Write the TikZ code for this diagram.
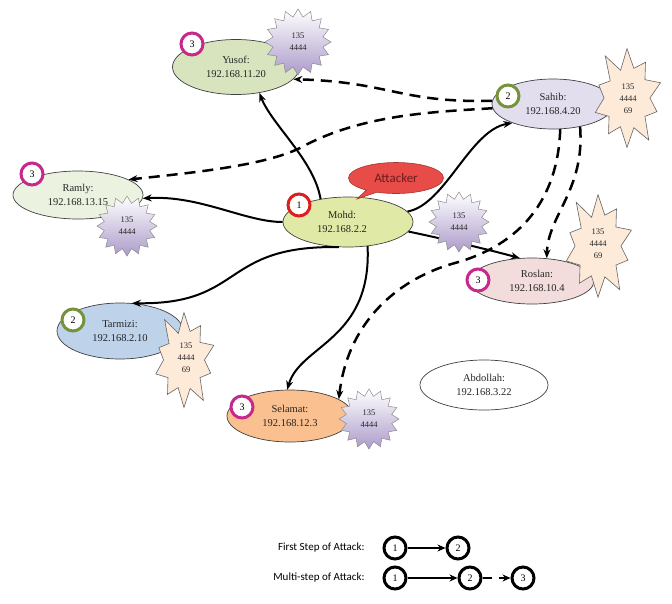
\documentclass[tikz,border=0pt]{standalone}
\usepackage{fontspec}
\setmainfont{Liberation Serif}
\newfontfamily\calib{Carlito}
\usetikzlibrary{shapes.geometric,shapes.callouts,arrows.meta}
\definecolor{cyusof}{RGB}{215,228,189}
\definecolor{csahib}{RGB}{226,222,238}
\definecolor{cmohd}{RGB}{224,234,166}
\definecolor{cramly}{RGB}{236,242,224}
\definecolor{croslan}{RGB}{242,221,220}
\definecolor{ctarmizi}{RGB}{190,210,234}
\definecolor{cselamat}{RGB}{250,192,143}
\definecolor{cream}{RGB}{253,234,216}
\definecolor{lav}{RGB}{172,155,202}
\definecolor{attred}{RGB}{232,76,72}
\definecolor{attext}{RGB}{110,28,28}
\definecolor{magentab}{RGB}{200,40,140}
\definecolor{greenb}{RGB}{118,146,60}
\definecolor{redb}{RGB}{220,30,30}
\tikzset{
  host/.style={ellipse, draw=black!75, line width=0.7pt, inner sep=0pt, align=center,
    text=black!85, font=\fontsize{10.5}{14}\selectfont},
  badge/.style={circle, draw=#1, line width=3pt, fill=white, minimum size=22pt,
    inner sep=0pt, font=\fontsize{10}{12}\selectfont},
  firststep/.style={line width=2pt, -{Stealth[length=9pt,width=7pt]}},
  multistep/.style={line width=2.5pt, dash pattern=on 11pt off 7pt, -{Stealth[length=9pt,width=7pt]}},
  purplestar/.style={star, star points=16, star point ratio=1.3, minimum size=#1, inner sep=0pt,
    draw=black!45, line width=0.5pt, top color=white, bottom color=lav, align=center,
    text=black!85, font=\fontsize{8.5}{12}\selectfont},
  startext/.style={align=center, text=black!85, font=\fontsize{8.5}{12}\selectfont},
  legendtext/.style={anchor=east, font=\calib\fontsize{11}{13}\selectfont},
  pics/boom/.style={code={
    \draw[draw=black!60, line width=0.6pt, fill=cream]
      (-126:1.0) -- (-108:0.56) -- (-90:0.95) -- (-72:0.6) -- (-54:0.85) -- (-36:0.6)
      -- (-18:0.95) -- (0:0.62) -- (18:0.85) -- (36:0.6) -- (54:1.0) -- (72:0.6)
      -- (90:0.95) -- (108:0.58) -- (126:0.85) -- (144:0.6) -- (162:0.9) -- (180:0.62)
      -- (198:0.8) -- (216:0.56) -- cycle;
  }}
}
\begin{document}
\begin{tikzpicture}[x=1pt,y=-1pt]
\useasboundingbox (0,0) rectangle (672,603);
\fill[white] (0,0) rectangle (672,603);

% hosts
\node[host, fill=cyusof, minimum width=127pt, minimum height=55pt] (yusof) at (236,67) {Yusof:\\192.168.11.20};
\node[host, fill=csahib, minimum width=122pt, minimum height=50pt] (sahib) at (553,104) {Sahib:\\192.168.4.20};
\node[host, fill=cmohd, minimum width=130pt, minimum height=50pt] (mohd) at (348,222) {Mohd:\hspace*{12pt}\\192.168.2.2\hspace*{12pt}};
\node[host, fill=cramly, minimum width=130pt, minimum height=48pt] (ramly) at (78,195) {Ramly:\\192.168.13.15};
\node[host, fill=croslan, minimum width=124pt, minimum height=46pt] (roslan) at (532,281) {\hspace*{10pt}Roslan:\\\hspace*{10pt}192.168.10.4};
\node[host, fill=ctarmizi, minimum width=126pt, minimum height=56pt] (tarmizi) at (120,331) {Tarmizi:\\192.168.2.10};
\node[host, fill=cselamat, minimum width=126pt, minimum height=52pt] (selamat) at (290,416) {Selamat:\\192.168.12.3};
\node[host, fill=white, minimum width=128pt, minimum height=50pt] (abdollah) at (484,385) {Abdollah:\\192.168.3.22};

% attacker callout
\node[ellipse callout, fill=attred, draw=attred!70!black, line width=0.6pt, minimum width=95pt,
  minimum height=31pt, inner sep=0pt, callout absolute pointer={(357,199)},
  font=\calib\fontsize{13}{15}\selectfont, text=attext] (attacker) at (396,178) {Attacker};

% first-step connectors
\draw[firststep] (mohd.140) .. controls (314,160) and (272,125) .. (yusof.-48);
\draw[firststep] (mohd.180) .. controls (245,222) and (200,195) .. (ramly.-3);
\draw[firststep] (mohd.10) .. controls (445,205) and (470,130) .. (sahib.205);
\draw[firststep] (mohd.-9) .. controls (440,238) and (490,250) .. (roslan.118);
\draw[firststep] (mohd.-110) .. controls (220,245) and (245,305) .. (tarmizi.67);
\draw[firststep] (mohd.-51) .. controls (372,340) and (300,345) .. (selamat.96);

% multi-step connectors
\draw[multistep] (sahib.177) .. controls (400,103) and (390,82) .. (yusof.-12);
\draw[multistep] (sahib.184) .. controls (430,112) and (360,115) .. (300,148)
  .. controls (265,165) and (200,172) .. (ramly.17);
\draw[multistep] (sahib.-40) .. controls (585,190) and (548,215) .. (roslan.57);
\draw[multistep] (sahib.-74) .. controls (558,200) and (520,245) .. (455,263)
  .. controls (400,278) and (348,320) .. (selamat.19);

% port stars
\node[purplestar=66pt] (ystar) at (298,42) {135\\4444};
\node[purplestar=60pt] (mstar) at (459,222) {135\\4444};
\node[purplestar=60pt] (rstar) at (127,226) {135\\4444};
\node[purplestar=60pt] (sstar) at (369,419) {135\\4444};
\pic[xscale=37, yscale=52] at (627,98) {boom};
\node[startext] (sahibports) at (628,99) {135\\4444\\69};
\pic[xscale=37, yscale=54] at (598,246) {boom};
\node[startext] (roslanports) at (598,244) {135\\4444\\69};
\pic[xscale=33, yscale=50] at (184,360) {boom};
\node[startext] (tarmiziports) at (186,358) {135\\4444\\69};

% step badges
\node[badge=magentab] (by) at (192,44) {3};
\node[badge=greenb] (bs) at (508,96) {2};
\node[badge=redb] (bm) at (299,205) {1};
\node[badge=magentab] (br) at (32,174) {3};
\node[badge=magentab] (bro) at (478,280) {3};
\node[badge=greenb] (bt) at (73,320) {2};
\node[badge=magentab] (bse) at (242,407) {3};

% legend
\node[legendtext] (lt1) at (368,548) {First Step of Attack:};
\node[legendtext] (lt2) at (368,578) {Multi-step of Attack:};
\node[badge=black] (la) at (395,548) {1};
\node[badge=black] (lb) at (458,548) {2};
\node[badge=black] (ma) at (395,578) {1};
\node[badge=black] (mb) at (470,578) {2};
\node[badge=black] (mc) at (523,578) {3};
\draw[line width=2.2pt, -{Stealth[length=8pt,width=7pt]}] (la) -- (lb);
\draw[line width=2.2pt, -{Stealth[length=8pt,width=7pt]}] (ma) -- (mb);
\draw[line width=2.2pt, dash pattern=on 9pt off 7pt, -{Stealth[length=8pt,width=7pt]}] (mb) -- (mc);
\end{tikzpicture}
\end{document}
